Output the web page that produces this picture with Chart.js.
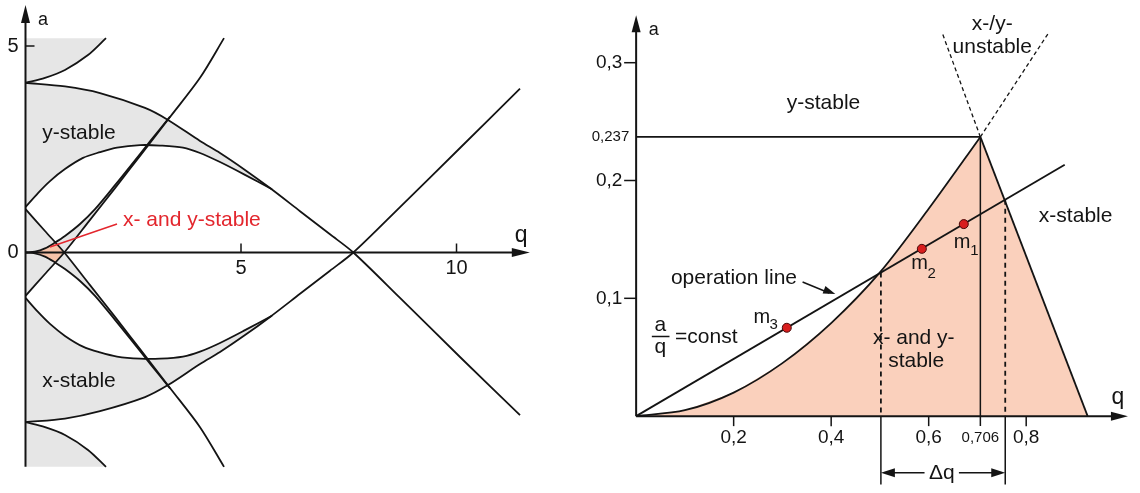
<!DOCTYPE html>
<html>
<head>
<meta charset="utf-8">
<title>Stability diagram</title>
<script src="https://cdn.jsdelivr.net/npm/chart.js"></script>
<style>
  body { margin: 0; background: #fff; }
  #wrap { position: relative; width: 1140px; height: 493px; }
  canvas { position: absolute; top: 0; }
  #left { left: 0; }
  #right { left: 560px; }
</style>
</head>
<body>
<div id="wrap">
  <canvas id="left" width="560" height="493"></canvas>
  <canvas id="right" width="580" height="493"></canvas>
</div>
<script>
// ---------- full a-q diagram, points as [q, a] ----------
const capTop = [[0, 4.11], [0.452, 4.23], [0.916, 4.42], [1.45, 4.78], [1.868, 5.19]];
const outerTop = [[0, 4.11], [0.916, 4.02], [1.729, 3.86], [2.773, 3.5], [3.306, 3.21], [4.049, 2.7],
  [4.513, 2.41], [5.093, 2.0], [5.673, 1.56], [6.369, 1.0], [7.065, 0.44], [7.606, 0],
  [8.689, -1.1], [10.081, -2.53], [11.473, -3.94]];
const innerTop = [[0, 1.1], [0.29, 1.44], [0.568, 1.73], [0.916, 2.02], [1.334, 2.29], [1.729, 2.43],
  [2.123, 2.54], [2.657, 2.6], [3.121, 2.59], [3.654, 2.54], [4.049, 2.41], [4.513, 2.19],
  [5.093, 1.88], [5.719, 1.53]];
const yB1 = [[0, -1.05], [0.452, -0.52], [0.9, 0], [1.497, 0.79], [2.077, 1.56], [2.425, 2.03],
  [2.889, 2.65], [3.353, 3.28], [4.049, 4.23], [4.606, 5.19]];
const yA0 = [[0, 0], [0.22, 0.02], [0.452, 0.1], [0.684, 0.24], [0.916, 0.4], [1.265, 0.69],
  [1.613, 1.05], [2.077, 1.63], [2.425, 2.08], [2.889, 2.69], [3.353, 3.29]];
const xB1 = [[0, 1.05], [0.452, 0.52], [0.9, 0], [1.497, -0.79], [2.077, -1.56], [2.425, -2.03],
  [2.889, -2.65], [3.353, -3.28], [4.049, -4.23], [4.606, -5.19]];
const xA0 = [[0, 0], [0.22, -0.02], [0.452, -0.1], [0.684, -0.24], [0.916, -0.4], [1.265, -0.69],
  [1.613, -1.05], [2.077, -1.63], [2.425, -2.08], [2.889, -2.69], [3.353, -3.29]];
const outerBottom = [[0, -4.11], [0.916, -4.02], [1.729, -3.84], [2.773, -3.5], [3.306, -3.21], [4.049, -2.7],
  [4.513, -2.41], [5.093, -2.0], [5.673, -1.56], [6.369, -1.0], [7.065, -0.44], [7.606, 0],
  [8.689, 1.1], [10.081, 2.53], [11.473, 3.97]];
const innerBottom = [[0, -1.1], [0.29, -1.44], [0.568, -1.73], [0.916, -2.02], [1.334, -2.28], [1.729, -2.42],
  [2.123, -2.52], [2.657, -2.57], [3.121, -2.57], [3.654, -2.52], [4.049, -2.4], [4.513, -2.19],
  [5.093, -1.88], [5.719, -1.53]];
const capBottom = [[0, -4.11], [0.452, -4.23], [0.916, -4.42], [1.45, -4.78], [1.868, -5.19]];
const aEdge = 5.19;
const leftQTicks = [5, 10];
const leftATicks = [0, 5];

// ---------- enlarged first stability region ----------
const edgeY = [[0, 0], [0.1, 0.005], [0.2, 0.02], [0.3, 0.045], [0.4, 0.079], [0.5, 0.122], [0.6, 0.176], [0.706, 0.237]];
const edgeX = [[0.706, 0.237], [0.926, 0]];
const apexQ = 0.706;
const apexA = 0.237;
const opLine = [[0, 0], [0.879, 0.2133]];
const massQ = [0.672, 0.586, 0.309];
const massA = [0.163, 0.142, 0.075];
const massSub = ['1', '2', '3'];
const deltaQ = [0.502, 0.757];
const deltaA = [0.122, 0.1836];
const rightQTicks = [0.2, 0.4, 0.6, 0.8];
const rightQLabels = ['0,2', '0,4', '0,6', '0,8'];
const rightATicks = [0.1, 0.2, 0.3];
const rightALabels = ['0,1', '0,2', '0,3'];

const ink = '#141414';
const gray = '#e6e6e6';
const salmon = '#f8c3a9';
const peach = '#fad0bc';
const FONT = '"Liberation Sans", Arial, Helvetica, sans-serif';

const seg = (pts, from, to) => pts.slice(from, to);
const rev = pts => pts.slice().reverse();

function curve(points, extra) {
  return Object.assign({
    data: points.map(([x, y]) => ({x, y})),
    borderColor: ink, borderWidth: 1.8, pointRadius: 0, fill: false, tension: 0.3
  }, extra);
}
function area(points, color) {
  return {
    data: points.map(([x, y]) => ({x, y})),
    borderColor: 'rgba(0,0,0,0)', borderWidth: 0, backgroundColor: color,
    pointRadius: 0, fill: 'shape', tension: 0
  };
}
function baseOptions(xMin, xMax, yMin, yMax) {
  return {
    responsive: false, animation: false, events: [],
    layout: { padding: 0 },
    scales: {
      x: { type: 'linear', display: false, min: xMin, max: xMax },
      y: { type: 'linear', display: false, min: yMin, max: yMax }
    },
    plugins: {
      legend: { display: false },
      tooltip: { enabled: false },
      filler: { drawTime: 'beforeDatasetsDraw' }
    }
  };
}

function text(chart, str, q, a, size, align, base, color) {
  const ctx = chart.ctx;
  ctx.font = size + 'px ' + FONT;
  ctx.textAlign = align || 'center';
  ctx.textBaseline = base || 'alphabetic';
  ctx.fillStyle = color || ink;
  ctx.fillText(str, chart.scales.x.getPixelForValue(q), chart.scales.y.getPixelForValue(a));
}
function stroke(ctx, x1, y1, x2, y2) {
  ctx.beginPath();
  ctx.moveTo(x1, y1);
  ctx.lineTo(x2, y2);
  ctx.stroke();
}
function head(ctx, x1, y1, x2, y2, len, half) {
  const ang = Math.atan2(y2 - y1, x2 - x1);
  const c = Math.cos(ang), s = Math.sin(ang);
  ctx.beginPath();
  ctx.moveTo(x2, y2);
  ctx.lineTo(x2 - len * c + half * s, y2 - len * s - half * c);
  ctx.lineTo(x2 - len * c - half * s, y2 - len * s + half * c);
  ctx.closePath();
  ctx.fill();
}

// ---------- left chart ----------
const topVertex = yA0[3];
const crossing = yB1[2];
const bottomVertex = xA0[3];

const leftDatasets = [
  curve(capTop), curve(outerTop), curve(innerTop), curve(yB1), curve(yA0),
  curve(xB1), curve(xA0), curve(outerBottom), curve(innerBottom), curve(capBottom),
  // x- and y-stable
  area([...seg(yA0, 0, 4), crossing, ...rev(seg(xA0, 0, 4))], salmon),
  // single-stable regions
  area([[0, aEdge], [capTop[4][0], aEdge], ...rev(capTop)], gray),
  area([...seg(outerTop, 0, 9), ...rev(innerTop)], gray),
  area([innerTop[0], xB1[1], topVertex, ...rev(seg(yA0, 0, 3))], gray),
  area([...seg(yA0, 3, 11), ...rev(seg(yB1, 2, 7)), topVertex], gray),
  area([innerBottom[0], yB1[1], bottomVertex, ...rev(seg(xA0, 0, 3))], gray),
  area([...seg(xA0, 3, 11), ...rev(seg(xB1, 2, 7)), bottomVertex], gray),
  area([...seg(outerBottom, 0, 9), ...rev(innerBottom)], gray),
  area([[0, -aEdge], [capBottom[4][0], -aEdge], ...rev(capBottom)], gray)
];

const leftDecor = {
  id: 'leftDecor',
  afterDatasetsDraw(chart) {
    const ctx = chart.ctx;
    const X = v => chart.scales.x.getPixelForValue(v);
    const Y = v => chart.scales.y.getPixelForValue(v);
    ctx.save();
    ctx.strokeStyle = ink;
    ctx.fillStyle = ink;
    ctx.lineWidth = 2;
    // axes with arrow heads
    stroke(ctx, X(0), Y(-aEdge), X(0), Y(5.99) + 10);
    head(ctx, X(0), Y(0), X(0), Y(5.99), 18, 4.5);
    stroke(ctx, X(0), Y(0), X(11.7) - 10, Y(0));
    head(ctx, X(0), Y(0), X(11.7), Y(0), 18, 4.5);
    ctx.lineWidth = 1.5;
    leftQTicks.forEach(q => stroke(ctx, X(q), Y(0), X(q), Y(0) - 9));
    stroke(ctx, X(0), Y(5), X(0) + 9, Y(5));
    leftQTicks.forEach(q => text(chart, String(q), q, -0.38, 20, 'center', 'middle'));
    leftATicks.forEach(a => text(chart, String(a), -0.29, a, 20, 'center', 'middle'));
    text(chart, 'a', 0.406, 5.508, 18);
    text(chart, 'q', 11.497, 0.254, 23);
    text(chart, 'y-stable', 1.241, 2.741, 21);
    text(chart, 'x-stable', 1.241, -3.249, 21);
    // pointer to the x- and y-stable zone
    ctx.strokeStyle = '#e3262d';
    ctx.lineWidth = 1.5;
    stroke(ctx, X(0.568), Y(0.133), X(2.123), Y(0.69));
    text(chart, 'x- and y-stable', 2.262, 0.642, 21, 'left', 'alphabetic', '#e3262d');
    ctx.restore();
  }
};

new Chart(document.getElementById('left'), {
  type: 'line',
  data: { datasets: leftDatasets },
  options: baseOptions(-0.5916, 12.401, -5.8232, 6.1138),
  plugins: [leftDecor]
});

// ---------- right chart ----------
const dashed = { borderDash: [5, 4], borderWidth: 1.8, tension: 0 };
const fineDash = { borderDash: [4, 3], borderWidth: 1.3, tension: 0 };
const rightDatasets = [
  {
    data: massQ.map((q, i) => ({x: q, y: massA[i]})),
    showLine: false, pointRadius: 4.5, pointBorderWidth: 1,
    pointBackgroundColor: '#d81e1e', pointBorderColor: '#4a0808'
  },
  curve(opLine, { tension: 0 }),
  curve(edgeY),
  curve(edgeX, { tension: 0 }),
  curve([[0, apexA], [apexQ, apexA]], { tension: 0 }),
  curve([[apexQ, -0.0083], [apexQ, apexA]], { borderWidth: 1.5, tension: 0 }),
  curve([[apexQ, apexA], [0.628, 0.325]], fineDash),
  curve([[apexQ, apexA], [0.847, 0.326]], fineDash),
  curve([[deltaQ[0], deltaA[0]], [deltaQ[0], 0]], dashed),
  curve([[deltaQ[1], deltaA[1]], [deltaQ[1], 0]], dashed),
  curve([[deltaQ[0], 0], [deltaQ[0], -0.058]], { borderWidth: 1.5, tension: 0 }),
  curve([[deltaQ[1], 0], [deltaQ[1], -0.058]], { borderWidth: 1.5, tension: 0 }),
  area([...edgeY, ...edgeX.slice(1)], peach)
];

const rightDecor = {
  id: 'rightDecor',
  afterDatasetsDraw(chart) {
    const ctx = chart.ctx;
    const X = v => chart.scales.x.getPixelForValue(v);
    const Y = v => chart.scales.y.getPixelForValue(v);
    ctx.save();
    ctx.strokeStyle = ink;
    ctx.fillStyle = ink;
    ctx.lineWidth = 2;
    stroke(ctx, X(0), Y(0), X(0), Y(0.3402) + 10);
    head(ctx, X(0), Y(0), X(0), Y(0.3402), 17, 4.5);
    stroke(ctx, X(0), Y(0), X(1.0087) - 10, Y(0));
    head(ctx, X(0), Y(0), X(1.0087), Y(0), 17, 4.5);
    ctx.lineWidth = 1.5;
    rightATicks.forEach(a => stroke(ctx, X(0) - 12, Y(a), X(0), Y(a)));
    rightQTicks.forEach(q => stroke(ctx, X(q), Y(0), X(q), Y(0) + 10));
    rightALabels.forEach((s, i) => text(chart, s, -0.0282, rightATicks[i], 19, 'right', 'middle'));
    rightQLabels.forEach((s, i) => text(chart, s, rightQTicks[i], -0.0187, 19, 'center', 'middle'));
    text(chart, '0,237', -0.0141, apexA, 15, 'right', 'middle');
    text(chart, '0,706', apexQ, -0.0187, 15, 'center', 'middle');
    text(chart, 'a', 0.0362, 0.3237, 18);
    text(chart, 'q', 0.9879, 0.01, 23);

    text(chart, 'y-stable', 0.3843, 0.2606, 21);
    text(chart, 'x-/y-', 0.7304, 0.3278, 21);
    text(chart, 'unstable', 0.7304, 0.3079, 21);
    text(chart, 'x-stable', 0.9014, 0.1646, 21);
    text(chart, 'x- and y-', 0.5694, 0.0612, 21);
    text(chart, 'stable', 0.5744, 0.0421, 21);
    text(chart, 'operation line', 0.2006, 0.112, 21);
    // pointer from the label to the operation line
    ctx.lineWidth = 1.5;
    stroke(ctx, X(0.3414), Y(0.1139), X(0.4085) - 6, Y(0.1037) - 1);
    head(ctx, X(0.3414), Y(0.1139), X(0.4085), Y(0.1037), 12, 4);
    // a/q = const
    text(chart, 'a', 0.0497, 0.0719, 21);
    text(chart, 'q', 0.0497, 0.0539, 21);
    stroke(ctx, X(0.0322), Y(0.0676), X(0.0684), Y(0.0676));
    text(chart, '=const', 0.0799, 0.0622, 21, 'left');
    // mass labels
    const mPos = [[0.6513, 0.1425, 0.6855, 0.1369], [0.564, 0.1245, 0.5976, 0.1176], [0.2409, 0.0788, 0.2736, 0.0741]];
    mPos.forEach((p, i) => {
      text(chart, 'm', p[0], p[1], 20, 'left');
      text(chart, massSub[i], p[2], p[3], 15, 'left');
    });
    // Δq span
    const ya = Y(-0.0481);
    stroke(ctx, X(deltaQ[0]) + 4, ya, X(0.5915), ya);
    stroke(ctx, X(0.662), ya, X(deltaQ[1]) - 4, ya);
    head(ctx, X(0.5915), ya, X(deltaQ[0]), ya, 14, 4.5);
    head(ctx, X(0.662), ya, X(deltaQ[1]), ya, 14, 4.5);
    text(chart, 'Δq', 0.6268, -0.0481, 21, 'center', 'middle');
    ctx.restore();
  }
};

new Chart(document.getElementById('right'), {
  type: 'line',
  data: { datasets: rightDatasets },
  options: baseOptions(-0.14487, 1.02213, -0.06058, 0.34855),
  plugins: [rightDecor]
});
</script>
</body>
</html>
